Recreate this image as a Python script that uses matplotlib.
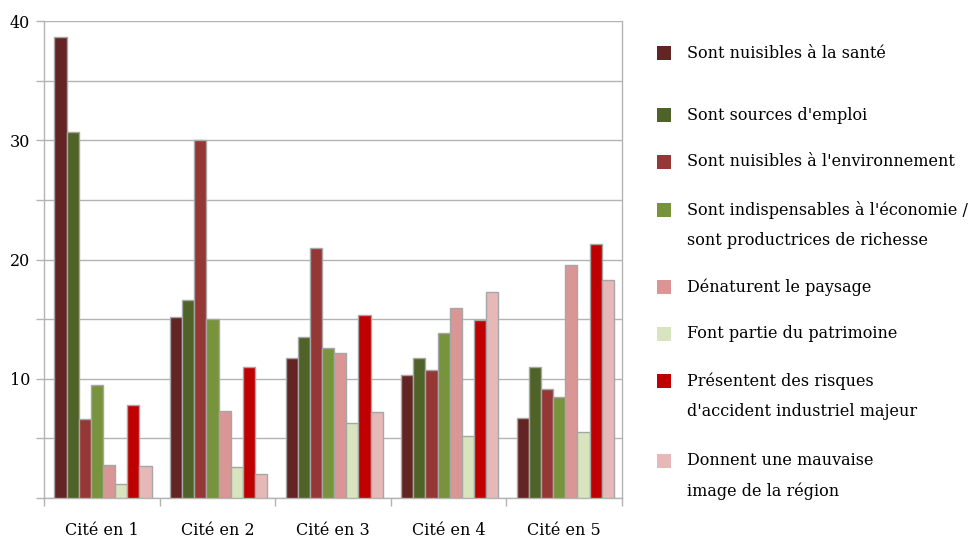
import numpy as np
import matplotlib
matplotlib.use('Agg')
import matplotlib.pyplot as plt
from matplotlib.patches import Rectangle

plt.rcParams['font.family'] = ['DejaVu Serif']

categories = ['Cité en 1', 'Cité en 2', 'Cité en 3', 'Cité en 4', 'Cité en 5']
series_labels = [
    'Sont nuisibles à la santé',
    "Sont sources d'emploi",
    "Sont nuisibles à l'environnement",
    "Sont indispensables à l'économie /\nsont productrices de richesse",
    'Dénaturent le paysage',
    'Font partie du patrimoine',
    "Présentent des risques\nd'accident industriel majeur",
    'Donnent une mauvaise\nimage de la région',
]
nuisibles_sante = [38.7, 15.2, 11.7, 10.3, 6.7]
sources_emploi = [30.7, 16.6, 13.5, 11.7, 10.95]
nuisibles_env = [6.6, 30.05, 21.0, 10.7, 9.1]
indispensables = [9.45, 15.0, 12.6, 13.8, 8.5]
denaturent = [2.8, 7.3, 12.15, 15.9, 19.5]
patrimoine = [1.2, 2.6, 6.3, 5.2, 5.5]
risques = [7.8, 11.0, 15.35, 14.9, 21.3]
mauvaise_image = [2.65, 2.0, 7.2, 17.3, 18.3]
series = [nuisibles_sante, sources_emploi, nuisibles_env, indispensables,
          denaturent, patrimoine, risques, mauvaise_image]
colors = ['#632523', '#4F6228', '#953735', '#77933C',
          '#D99694', '#D7E4BD', '#C00000', '#E6B9B8']

fig = plt.figure(figsize=(9.77, 5.37), dpi=100)
ax = fig.add_axes([44/977, 1-498/537, (622-44)/977, (498-21)/537])

x = np.arange(len(categories))
w = 0.105
n = len(series)
for i, (vals, c) in enumerate(zip(series, colors)):
    ax.bar(x + (i - (n-1)/2)*w + 0.01, vals, width=w, color=c,
           edgecolor='#A6A6A6', linewidth=1, zorder=3)

grid_c = '#B3B3B3'
ax.set_xlim(-0.5, len(categories)-0.5)
ax.set_ylim(0, 40)
ax.set_yticks(range(0, 41, 5))
ax.set_yticklabels(['' if v % 10 or v == 0 else str(v) for v in range(0, 41, 5)],
                   fontsize=11.5)
ax.yaxis.grid(True, color=grid_c, linewidth=1, zorder=0)
ax.tick_params(axis='y', length=6, color=grid_c, width=1, pad=4)

ax.set_xticks(x)
ax.set_xticklabels(categories, fontsize=11.5)
ax.set_xticks(np.arange(-0.5, len(categories)), minor=True)
ax.tick_params(axis='x', which='major', length=0, pad=17)
ax.tick_params(axis='x', which='minor', length=6, color=grid_c, width=1)

for s in ['left', 'bottom', 'right']:
    ax.spines[s].set_color(grid_c)
    ax.spines[s].set_linewidth(1)
ax.spines['top'].set_visible(False)

# légende
leg_y = [53, 115, 162, 210, 287, 334, 381, 461]
for lab, c, yy in zip(series_labels, colors, leg_y):
    fig.add_artist(Rectangle((657/977, 1-(yy+7)/537), 14/977, 14/537,
                             transform=fig.transFigure, facecolor=c, edgecolor='none'))
    if '\n' in lab:
        fig.text(687/977, 1-(yy-9)/537, lab, fontsize=11.5, va='top',
                 linespacing=2.0, transform=fig.transFigure)
    else:
        fig.text(687/977, 1-yy/537, lab, fontsize=11.5, va='center',
                 transform=fig.transFigure)

plt.savefig('out.png', dpi=100)
